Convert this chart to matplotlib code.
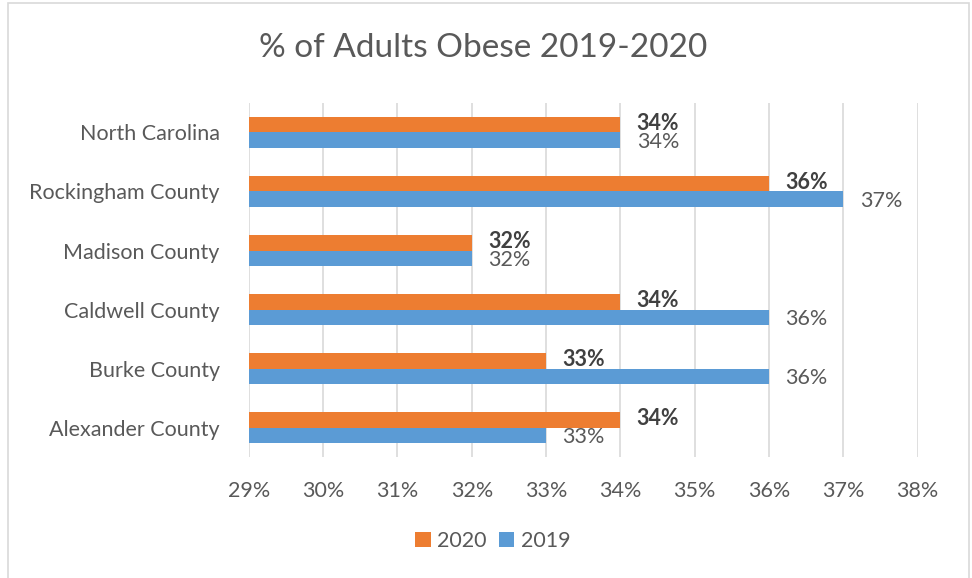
import matplotlib
matplotlib.use("Agg")
import matplotlib.pyplot as plt
import numpy as np
from matplotlib.patches import Rectangle

plt.rcParams["font.family"] = ["Lato", "DejaVu Sans"]

categories = ["North Carolina", "Rockingham County", "Madison County",
              "Caldwell County", "Burke County", "Alexander County"]
vals_2020 = [34, 36, 32, 34, 33, 34]
vals_2019 = [34, 37, 32, 36, 36, 33]
xticks = [29, 30, 31, 32, 33, 34, 35, 36, 37, 38]

c2020 = "#ED7D31"
c2019 = "#5B9BD5"
txt = "#595959"
fs = 15.5

fig = plt.figure(figsize=(9.72, 5.78), dpi=100)
ax = fig.add_axes([0.256, 0.209, 0.688, 0.613])

y = np.arange(len(categories))[::-1]
h = 0.265
base = xticks[0]
ax.barh(y + h / 2, np.array(vals_2020) - base, left=base, height=h, color=c2020, label="2020", zorder=3)
ax.barh(y - h / 2, np.array(vals_2019) - base, left=base, height=h, color=c2019, label="2019", zorder=3)

for yi, v in zip(y, vals_2020):
    ax.text(v + 0.22, yi + h / 2 + 0.02, f"{v}%", va="center", ha="left", fontsize=fs,
            fontweight="bold", color="#404040", zorder=4)
for yi, v in zip(y, vals_2019):
    ax.text(v + 0.22, yi - h / 2 - 0.03, f"{v}%", va="center", ha="left", fontsize=fs,
            color=txt, zorder=4)

ax.set_xlim(29, 38)
ax.set_ylim(-0.5, len(categories) - 0.5)
ax.set_xticks(xticks)
ax.set_xticklabels([f"{t}%" for t in xticks], fontsize=fs, color=txt)
ax.set_yticks(y)
ax.set_yticklabels(categories, fontsize=fs, color=txt)
ax.tick_params(axis="both", length=0)
ax.tick_params(axis="x", pad=17)
ax.tick_params(axis="y", pad=21)
ax.grid(axis="x", color="#D9D9D9", linewidth=1.2, zorder=0)
for s in ax.spines.values():
    s.set_visible(False)

fig.text(0.5 - 0.003, 1 - 48 / 578, "% of Adults Obese 2019-2020", fontsize=24, color=txt,
         ha="center", va="center")

handles, labels = ax.get_legend_handles_labels()
fig.legend(handles, labels, loc="center", bbox_to_anchor=(493 / 972, 1 - 541 / 578), ncol=2,
           frameon=False, fontsize=fs, handlelength=0.7, handleheight=0.7, columnspacing=0.6,
           handletextpad=0.3, labelcolor=txt)

fig.patches.append(Rectangle((8 / 972, -0.01), 961 / 972, 1 - 3 / 578 + 0.01, transform=fig.transFigure,
                             fill=False, edgecolor="#D9D9D9", linewidth=1.2))

fig.savefig("out.png", dpi=100)
